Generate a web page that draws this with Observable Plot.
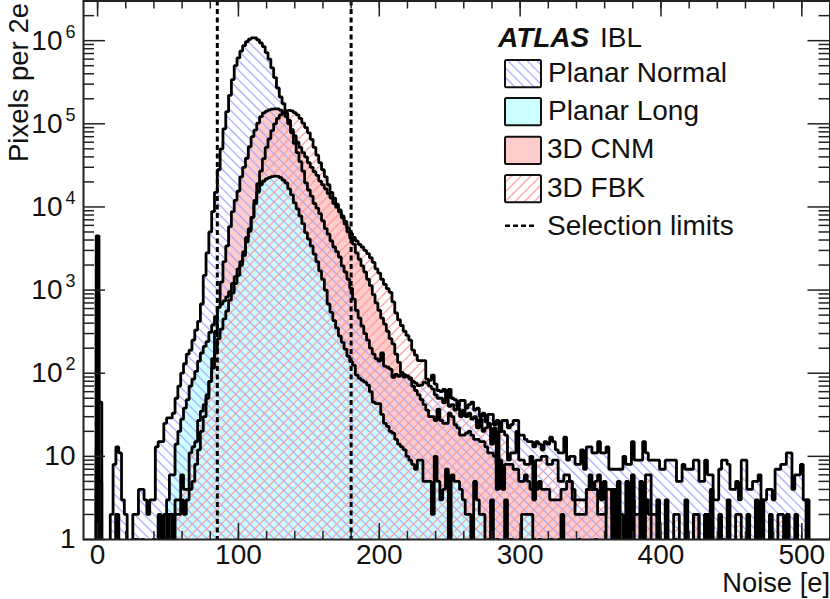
<!DOCTYPE html>
<html><head><meta charset="utf-8">
<script src="https://cdn.jsdelivr.net/npm/d3@7"></script>
<script src="https://cdn.jsdelivr.net/npm/@observablehq/plot@0.6"></script>
<style>html,body{margin:0;padding:0;background:#fff}svg{display:block;overflow:hidden}</style>
</head><body><div id="chart"></div>
<script>
// counts per 2e bin; bin i is centred on noise = 2*i
const planarNormal = [
4500,45,0,0,0,2,8,13,11,3,
2,0,0,2,2,4,4,3,2,3,
3,13,15,15,25,29,29,33,50,70,
100,130,170,190,250,330,420,680,1500,2800,
5000,8800,15000,28000,50000,87000,140000,220000,340000,500000,
620000,750000,870000,970000,1040000,1080000,1080000,1020000,940000,850000,
720000,600000,470000,360000,270000,210000,175000,135000,110000,78000,
58000,45000,35000,27000,19500,16000,13500,11000,9700,8300,
6800,5500,4700,3900,3300,2900,2500,1950,1650,1350,
1050,780,570,460,370,300,250,200,170,150,
140,175,122,118,112,89,97,92,98,90,
93,85,80,76,71,72,78,76,82,95,
74,62,60,64,50,64,50,48,40,47,
47,38,42,45,36,38,30,33,26,32,
32,24,27,20,27,27,22,24,27,27,
18,18,16,15,15,13,15,14,12,15,
14,17,15,12,11,11,17,9,10,10,
8,8,12,7,13,13,11,11,15,11,
11,13,7,7,7,7,7,10,8,8,
15,9,9,9,15,11,9,9,9,9,
7,7,9,9,9,9,5,5,8,7,
7,7,9,9,5,5,9,6,6,3,
3,7,9,9,8,4,4,5,3,9,
9,4,4,5,5,6,3,3,4,4,
3,7,7,8,8,11,11,4,6,6,
8,3,3,0,0,0];
const planarLong = [
6,1,0,0,0,0,0,0,0,0,
0,0,0,0,0,0,0,0,0,0,
1,0,2,1,2,3,6,6,14,20,
28,38,48,70,85,105,140,175,210,240,
310,380,480,620,680,740,830,960,1200,1450,
1800,2200,2900,3800,5100,7500,11000,15000,18500,20500,
21800,22500,23200,23500,23300,22500,21000,19500,16500,14000,
11200,9500,7800,6300,4900,4100,3400,2700,2200,1700,
1350,1000,680,540,430,350,280,235,195,160,
138,125,95,87,82,78,72,60,45,43,
43,32,25,23,20,19,16,14,13,12,
10,9,8,7,9,9,5,5,5,2,
10,5,3,4,7,0,6,5,5,4,
3,2,2,0,5,3,2,2,0,1,
3,0,1,0,0,3,1,1,0,0,
1,2,2,2,2,1,0,1,0,0,
0,1,0,0,1,2,0,0,0,0,
0,1,0,0,0,0,0,1,0,0];
const cnm = [
12,1,0,0,0,0,0,2,0,0,
0,0,0,0,1,0,1,0,0,0,
0,0,1,1,1,2,2,1,2,2,
3,2,3,4,5,8,12,20,30,50,
80,150,320,620,1250,2200,3400,5800,8800,12000,
15500,23000,30000,38500,53000,70000,84000,102000,122000,135000,
142000,147000,150000,151000,151000,146000,137000,122000,100000,85000,
72000,60000,52000,45000,40000,34000,30000,26500,24000,20500,
18500,16500,14500,12800,11000,9900,8700,7400,6200,5000,
4200,3570,2800,2350,1950,1650,1350,1130,880,700,
570,460,390,320,260,225,170,135,102,96,
92,88,70,62,55,48,42,36,30,30,
27,37,27,25,25,33,30,24,22,18,
18,19,20,18,16,16,15,15,13,11,
11,10,4,9,4,8,8,8,7,7,
5,5,6,5,4,4,4,5,4,4,
4,3,3,3,3,4,4,5,5,3,
2,2,2,2,4,4,4,4,2,2,
2,4,4,2,4,2,2,0,2,2,
3,2,2,2,2,3,2,2,2,2,
0,0,0,0,0,1,0,0,0,0,
0,0,2,2,0,0,2,2,0,0,
0,0,1,0,0,0,0,0,0,0];
const fbk = [
900,5,0,0,0,0,0,2,0,0,
0,0,0,1,0,0,1,0,0,0,
0,0,1,1,1,1,2,2,3,3,
6,4,4,11,13,15,27,35,42,55,
80,115,175,260,340,450,560,760,920,1200,
1500,2000,2600,4300,5500,7500,12000,19000,27000,38000,
52000,66000,83000,100000,116000,128000,137000,143000,145000,143000,
136000,128000,116000,102000,90000,78000,65000,52000,42000,34000,
28000,23000,18500,15000,12800,10800,9200,7800,6700,5600,
4800,4300,3900,3550,3300,3000,2750,2450,2150,1800,
1600,1350,1170,1040,940,720,530,440,375,320,
285,250,190,165,142,142,142,85,70,65,
55,50,50,44,50,40,42,36,38,30,
36,30,33,28,30,22,28,20,22,25,
14,22,8,20,20,18,9,11,11,20,
9,9,8,8,10,3,9,9,10,10,
8,8,9,9,5,5,6,6,5,4,
3,3,3,3,4,6,4,5,6,3,
5,0,0,4,0,5,0,0,5,0,
6,0,0,5,0,6,6,0,0,3,
0,0,3,0,0,2,2,0,0,3,
0,0,2,2,0,0,2,0,4,0,
0,2,0,0,3,0,0,2,2,0,
0,2,0,0,3,0,3,0,0,2,
0,0,2,2,0,2,0,0,2,0,
0,0,3,0,0,0];
const selectionLimits = [85, 180];
const xLabels = [0, 100, 200, 300, 400, 500];
const xMinor = d3.range(0, 521, 20);
const decades = [1, 10, 100, 1000, 10000, 100000, 1000000];
const yMinor = [2,3,4,5,6,7,8,9,20,30,40,50,60,70,80,90,200,300,400,500,600,700,800,900,
  2000,3000,4000,5000,6000,7000,8000,9000,20000,30000,40000,50000,60000,70000,80000,90000,
  200000,300000,400000,500000,600000,700000,800000,900000,2000000,3000000];
const legendEntries = [["Planar Normal","url(#hNormal)"],["Planar Long","#ccffff"],["3D CNM","#ffcccc"],["3D FBK","url(#hFbk)"]];

const floorCount = 0.5;
const steps = vals => [{x:-1,y:floorCount},
  ...vals.map((v,i)=>({x:2*i-1,y:v>0?v:floorCount})),
  {x:2*vals.length-1,y:floorCount}];
const hist = (vals,fill) => Plot.areaY(steps(vals),{x:"x",y1:floorCount,y2:"y",curve:"step-after",fill,clip:true});
const outline = vals => Plot.lineY(steps(vals),{x:"x",y:"y",curve:"step-after",stroke:"#000",strokeWidth:2.8,strokeLinejoin:"miter",clip:true});

const W=830,H=599,ml=83,mr=0.5,mt=0.5,mb=60;
const fh=H-mt-mb, fw=W-ml-mr;
const tickStyle={stroke:"#222",strokeWidth:1.5};
const svg = Plot.plot({
  width:W,height:H,marginLeft:ml,marginRight:mr,marginTop:mt,marginBottom:mb,
  style:{fontFamily:"'Liberation Sans'",fontSize:"28px",background:"#fff",color:"#111"},
  x:{type:"linear",domain:[-10,520],label:null},
  y:{type:"log",domain:[1,3e6],label:null},
  marks:[
    hist(cnm,"#ffcccc"),
    hist(planarLong,"#ccffff"),
    hist(planarNormal,"url(#hNormal)"),
    hist(fbk,"url(#hFbk)"),
    outline(fbk),outline(cnm),outline(planarNormal),outline(planarLong),
    Plot.ruleX(selectionLimits,{stroke:"#000",strokeWidth:3,strokeDasharray:"5 3.5"}),
    Plot.tickX(xMinor,{x:d=>d,insetTop:fh-8,...tickStyle}),
    Plot.tickX(xLabels,{x:d=>d,insetTop:fh-16,...tickStyle}),
    Plot.tickX(xMinor,{x:d=>d,insetBottom:fh-8,...tickStyle}),
    Plot.tickX(xLabels,{x:d=>d,insetBottom:fh-16,...tickStyle}),
    Plot.tickY(yMinor,{y:d=>d,insetRight:fw-11,...tickStyle}),
    Plot.tickY(decades,{y:d=>d,insetRight:fw-22,...tickStyle}),
    Plot.tickY(yMinor,{y:d=>d,insetLeft:fw-11,...tickStyle}),
    Plot.tickY(decades,{y:d=>d,insetLeft:fw-22,...tickStyle}),
    Plot.axisX({ticks:xLabels,tickSize:0,tickPadding:5,fontSize:28,tickFormat:d=>String(d),label:null}),
    Plot.axisY({ticks:decades,tickSize:0,tickPadding:8,fontSize:28,
      tickFormat:d=>String(d).length<3?String(d):"10^"+(String(d).length-1),label:null}),
    Plot.text(["Noise [e]"],{frameAnchor:"bottom-right",textAnchor:"end",lineAnchor:"bottom",fontSize:27.3,dx:0,dy:52.7,fill:"#111"}),
    Plot.text(["Pixels per 2e"],{frameAnchor:"top-left",rotate:-90,textAnchor:"end",lineAnchor:"bottom",fontSize:27.5,dx:-56,dy:2,fill:"#111"}),
    Plot.frame({stroke:"#222",strokeWidth:2})
  ]
});
const s=d3.select(svg);
const defs=s.insert("defs",":first-child");
const hatch=(id,color,rot)=>{
  const p=defs.append("pattern").attr("id",id).attr("patternUnits","userSpaceOnUse")
    .attr("width",6.8).attr("height",6.8).attr("patternTransform",`rotate(${rot})`);
  p.append("line").attr("x1",0).attr("x2",6.8).attr("y1",3.4).attr("y2",3.4)
    .attr("stroke",color).attr("stroke-width",1.2);
};
hatch("hNormal","#a4a4ff",45);
hatch("hFbk","#ff9898",-45);
// superscript tick labels
s.selectAll("text").each(function(){
  const t=d3.select(this), m=/^10\^(\d)$/.exec(t.text());
  if(!m) return;
  t.text(null);
  t.append("tspan").text("10");
  t.append("tspan").attr("font-size",18).attr("dx",3).attr("dy",-12).text(m[1]);
});
// legend
const g=s.append("g").attr("font-family","'Liberation Sans'").attr("font-size",28).attr("fill","#111").attr("text-anchor","start");
const rowY=[60,98,136.7,175];
legendEntries.forEach(([name,fill],i)=>{
  g.append("rect").attr("x",505).attr("y",rowY[i]).attr("width",36).attr("height",27.3).attr("rx",1.5)
    .attr("fill","#fff");
  g.append("rect").attr("x",505).attr("y",rowY[i]).attr("width",36).attr("height",27.3).attr("rx",1.5)
    .attr("fill",fill).attr("stroke","#111").attr("stroke-width",2);
  g.append("text").attr("x",i<2?548:547).attr("y",rowY[i]+21.7).text(name);
});
g.append("line").attr("x1",505).attr("x2",537).attr("y1",225.7).attr("y2",225.7)
  .attr("stroke","#000").attr("stroke-width",2.5).attr("stroke-dasharray","5 3");
g.append("text").attr("x",547).attr("y",235).text("Selection limits");
g.append("text").attr("x",498).attr("y",47.3).attr("font-weight","bold").attr("font-style","italic").text("ATLAS");
g.append("text").attr("x",600).attr("y",47.3).text("IBL");
document.getElementById("chart").append(svg);
</script></body></html>
